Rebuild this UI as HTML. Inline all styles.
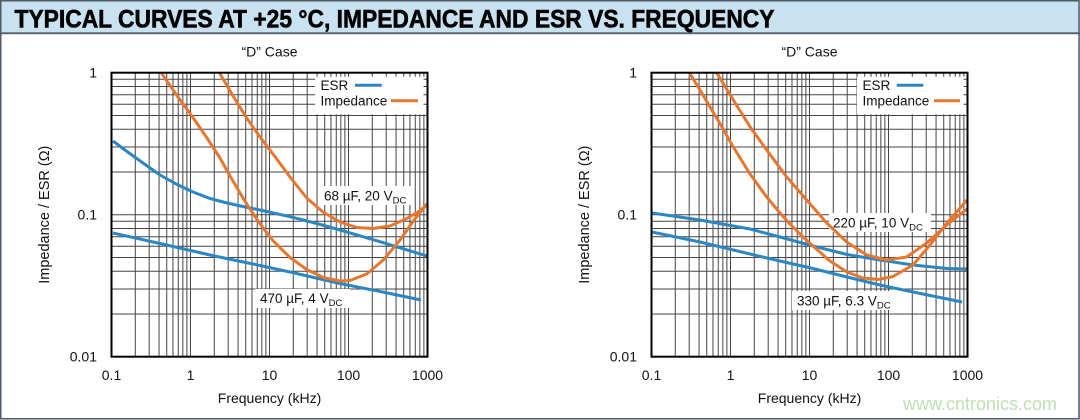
<!DOCTYPE html>
<html><head><meta charset="utf-8"><style>
html,body{margin:0;padding:0;background:#fff;}
svg{display:block;}
text{font-family:"Liberation Sans",Arial,sans-serif;fill:#111;}
</style></head><body>
<svg width="1080" height="420" viewBox="0 0 1080 420" xmlns="http://www.w3.org/2000/svg">
<rect x="0" y="0" width="1080" height="420" fill="#fff"/>
<!-- header -->
<rect x="0.75" y="0.75" width="1078.5" height="32" fill="#c8e2f1"/>
<line x1="0" y1="33.3" x2="1080" y2="33.3" stroke="#5b6570" stroke-width="2"/>
<rect x="0.75" y="0.75" width="1078.3" height="418" fill="none" stroke="#505862" stroke-width="1.5"/>
<text x="14.5" y="27.6" font-size="25" font-weight="bold" textLength="760" lengthAdjust="spacingAndGlyphs" stroke="#000" stroke-width="0.6" style="fill:#000">TYPICAL CURVES AT +25 °C, IMPEDANCE AND ESR VS. FREQUENCY</text>

<!-- chart group template drawn twice -->
<g id="c1">
<path fill="none" stroke="#454545" stroke-width="1" d="
M135.28,72.7V356.7 M149.19,72.7V356.7 M159.06,72.7V356.7 M166.72,72.7V356.7 M172.97,72.7V356.7 M178.26,72.7V356.7 M182.84,72.7V356.7 M186.88,72.7V356.7
M190.5,72.7V356.7 M214.28,72.7V356.7 M228.19,72.7V356.7 M238.06,72.7V356.7 M245.72,72.7V356.7 M251.97,72.7V356.7 M257.26,72.7V356.7 M261.84,72.7V356.7 M265.88,72.7V356.7
M269.5,72.7V356.7 M293.28,72.7V356.7 M307.19,72.7V356.7 M317.06,72.7V356.7 M324.72,72.7V356.7 M330.97,72.7V356.7 M336.26,72.7V356.7 M340.84,72.7V356.7 M344.88,72.7V356.7
M348.5,72.7V356.7 M372.28,72.7V356.7 M386.19,72.7V356.7 M396.06,72.7V356.7 M403.72,72.7V356.7 M409.97,72.7V356.7 M415.26,72.7V356.7 M419.84,72.7V356.7 M423.88,72.7V356.7
M111.5,79.2H427.5 M111.5,86.46H427.5 M111.5,94.7H427.5 M111.5,104.2H427.5 M111.5,115.45H427.5 M111.5,129.2H427.5 M111.5,146.95H427.5 M111.5,171.95H427.5
M111.5,214.7H427.5 M111.5,221.2H427.5 M111.5,228.46H427.5 M111.5,236.7H427.5 M111.5,246.2H427.5 M111.5,257.45H427.5 M111.5,271.2H427.5 M111.5,288.95H427.5 M111.5,313.95H427.5"/>
<rect x="315" y="73.5" width="112" height="40.8" fill="#fff"/>
<path fill="none" stroke="#454545" stroke-width="1" d="
M317.06,72.7v4 M324.72,72.7v4 M330.97,72.7v4 M336.26,72.7v4 M340.84,72.7v4 M344.88,72.7v4 M348.5,72.7v4 M372.28,72.7v4 M386.19,72.7v4 M396.06,72.7v4 M403.72,72.7v4 M409.97,72.7v4 M415.26,72.7v4 M419.84,72.7v4 M423.88,72.7v4
M423.5,79.2h4 M423.5,86.46h4 M423.5,94.7h4 M423.5,104.2h4"/>
<text x="269.5" y="56.5" font-size="14" text-anchor="middle">“D” Case</text>
<g font-size="14" text-anchor="end">
<text x="97" y="77.5">1</text>
<text x="97" y="219.7">0.1</text>
<text x="97" y="361.7">0.01</text>
</g>
<g font-size="14" text-anchor="middle">
<text x="111.5" y="380">0.1</text>
<text x="190.5" y="380">1</text>
<text x="269.5" y="380">10</text>
<text x="348.5" y="380">100</text>
<text x="427.5" y="380">1000</text>
<text x="269.5" y="403">Frequency (kHz)</text>
</g>
<text x="0" y="0" font-size="14.5" text-anchor="middle" transform="translate(49,214.7) rotate(-90)">Impedance / ESR (Ω)</text>
</g>
<g transform="translate(540,0)">
<path fill="none" stroke="#454545" stroke-width="1" d="
M135.28,72.7V356.7 M149.19,72.7V356.7 M159.06,72.7V356.7 M166.72,72.7V356.7 M172.97,72.7V356.7 M178.26,72.7V356.7 M182.84,72.7V356.7 M186.88,72.7V356.7
M190.5,72.7V356.7 M214.28,72.7V356.7 M228.19,72.7V356.7 M238.06,72.7V356.7 M245.72,72.7V356.7 M251.97,72.7V356.7 M257.26,72.7V356.7 M261.84,72.7V356.7 M265.88,72.7V356.7
M269.5,72.7V356.7 M293.28,72.7V356.7 M307.19,72.7V356.7 M317.06,72.7V356.7 M324.72,72.7V356.7 M330.97,72.7V356.7 M336.26,72.7V356.7 M340.84,72.7V356.7 M344.88,72.7V356.7
M348.5,72.7V356.7 M372.28,72.7V356.7 M386.19,72.7V356.7 M396.06,72.7V356.7 M403.72,72.7V356.7 M409.97,72.7V356.7 M415.26,72.7V356.7 M419.84,72.7V356.7 M423.88,72.7V356.7
M111.5,79.2H427.5 M111.5,86.46H427.5 M111.5,94.7H427.5 M111.5,104.2H427.5 M111.5,115.45H427.5 M111.5,129.2H427.5 M111.5,146.95H427.5 M111.5,171.95H427.5
M111.5,214.7H427.5 M111.5,221.2H427.5 M111.5,228.46H427.5 M111.5,236.7H427.5 M111.5,246.2H427.5 M111.5,257.45H427.5 M111.5,271.2H427.5 M111.5,288.95H427.5 M111.5,313.95H427.5"/>
<rect x="317" y="73.5" width="110" height="40.8" fill="#fff"/>
<path fill="none" stroke="#454545" stroke-width="1" d="
M317.06,72.7v4 M324.72,72.7v4 M330.97,72.7v4 M336.26,72.7v4 M340.84,72.7v4 M344.88,72.7v4 M348.5,72.7v4 M372.28,72.7v4 M386.19,72.7v4 M396.06,72.7v4 M403.72,72.7v4 M409.97,72.7v4 M415.26,72.7v4 M419.84,72.7v4 M423.88,72.7v4
M423.5,79.2h4 M423.5,86.46h4 M423.5,94.7h4 M423.5,104.2h4"/>
<text x="269.5" y="56.5" font-size="14" text-anchor="middle">“D” Case</text>
<g font-size="14" text-anchor="end">
<text x="97" y="77.5">1</text>
<text x="97" y="219.7">0.1</text>
<text x="97" y="361.7">0.01</text>
</g>
<g font-size="14" text-anchor="middle">
<text x="111.5" y="380">0.1</text>
<text x="190.5" y="380">1</text>
<text x="269.5" y="380">10</text>
<text x="348.5" y="380">100</text>
<text x="427.5" y="380">1000</text>
<text x="269.5" y="403">Frequency (kHz)</text>
</g>
<text x="0" y="0" font-size="14.5" text-anchor="middle" transform="translate(49,214.7) rotate(-90)">Impedance / ESR (Ω)</text>
</g>

<!-- annotation white boxes -->
<rect x="319" y="186" width="92" height="19" fill="#fff"/>
<rect x="255" y="289" width="95" height="19" fill="#fff"/>
<rect x="829" y="213" width="102" height="19" fill="#fff"/>
<rect x="792" y="291" width="107" height="19" fill="#fff"/>

<!-- curves -->
<g fill="none" stroke-width="3" stroke-linejoin="round">
<polyline stroke="#2a87c3" points="113,141 127,151.5 143,163 160,175 177,184.5 193,192 210,198.5 227,203 243,206.5 260,210 290,216.7 315,223 340,230 380,241.7 427,256"/>
<polyline stroke="#2a87c3" points="113,233 160,243.5 210,255 260,265.5 290,272 340,283.5 390,293.5 421,300"/>
<polyline stroke="#2a87c3" points="652,213 700,220 750,229 780,237 813,246 847,254.5 880,260 913,265 947,268.5 967,269"/>
<polyline stroke="#2a87c3" points="652,232 700,242 750,254 780,261 813,268.5 847,277 880,285 913,292 962,302"/>
<polyline stroke="#e7772f" points="219.5,72.7 233,96 246.7,118 260,137 276,158 290,177 306.7,198 323,212 340,222 356.7,227.5 373,228.5 390,226 406.7,218.5 418,212 427,205"/>
<polyline stroke="#e7772f" points="161.2,72.7 178,97 193.3,118 207,138 220,158 230,176 240,193 248,206 256.7,219 265,230.5 273.3,241 290,257.5 306.7,269.5 323.3,277.5 340,281 350,280.5 366.7,274 383.3,260 400,240 413.3,221 427,204"/>
<polyline stroke="#e7772f" points="689.3,72.7 700,90 710,107 722,127 733.3,147 750,174 766.7,197 780,213 790,224 800,234 813,246 830,261 847,272 863,278 878,279.5 893,276.5 913,265 930,245 947,223 967,200"/>
<polyline stroke="#e7772f" points="716.7,72.7 733.3,100 750,126.7 766.7,150 786.7,177 806.7,200 826.7,223 846.7,242 866.7,255 886.7,260 906.7,257 926.7,243 946.7,225 967,209"/>
<!-- legend lines -->
<line x1="355" y1="85.3" x2="381.7" y2="85.3" stroke="#2a87c3"/>
<line x1="391" y1="100.7" x2="418" y2="100.7" stroke="#e7772f"/>
<line x1="896.7" y1="85.3" x2="923.3" y2="85.3" stroke="#2a87c3"/>
<line x1="934" y1="100.7" x2="960" y2="100.7" stroke="#e7772f"/>
</g>

<!-- legend text -->
<g font-size="13.5">
<text x="320.5" y="90">ESR</text>
<text x="320.5" y="105.5">Impedance</text>
<text x="862.5" y="90">ESR</text>
<text x="862.5" y="105.5">Impedance</text>
</g>

<!-- annotations -->
<g font-size="13.5">
<text x="324" y="200.5">68 µF, 20 V<tspan font-size="9.5" dy="3">DC</tspan></text>
<text x="260" y="303">470 µF, 4 V<tspan font-size="9.5" dy="3">DC</tspan></text>
<text x="833" y="227.5">220 µF, 10 V<tspan font-size="9.5" dy="3">DC</tspan></text>
<text x="797" y="305.5">330 µF, 6.3 V<tspan font-size="9.5" dy="3">DC</tspan></text>
</g>

<!-- plot frames -->
<rect x="111.5" y="72.7" width="316" height="284" fill="none" stroke="#000" stroke-width="2"/>
<rect x="651.5" y="72.7" width="316" height="284" fill="none" stroke="#000" stroke-width="2"/>

<!-- watermark -->
<text x="903" y="410" font-size="18" textLength="154" lengthAdjust="spacingAndGlyphs" style="fill:#bfe0b4">www.cntronics.com</text>
</svg>
</body></html>
